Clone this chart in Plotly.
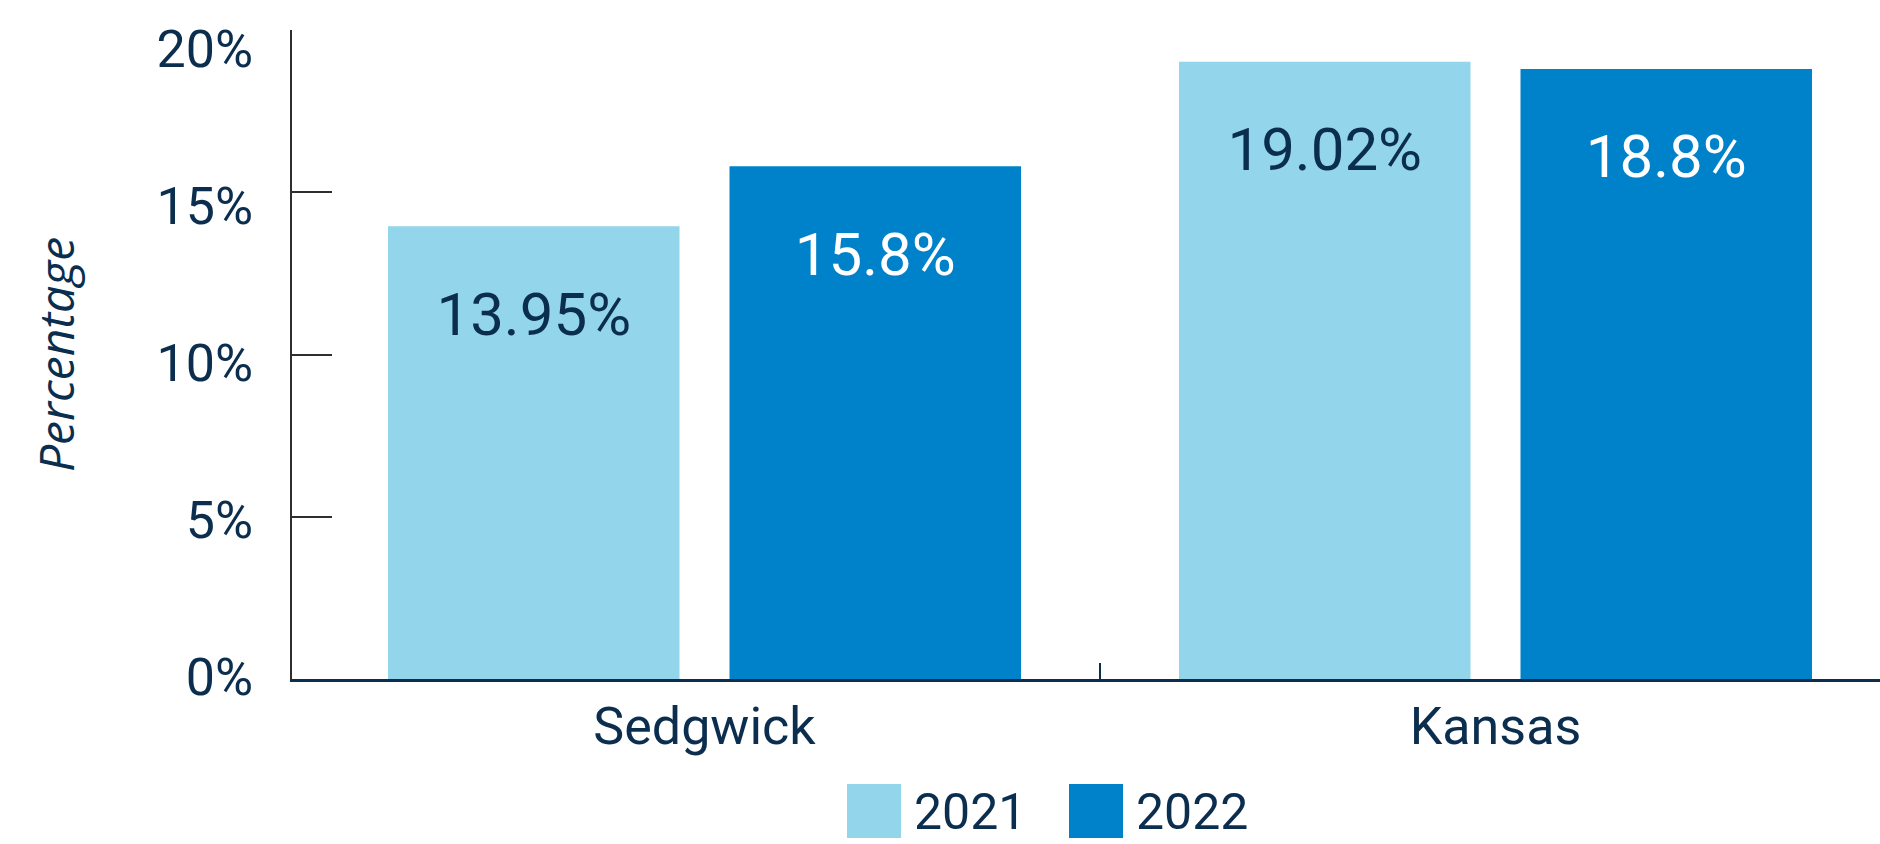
import plotly.graph_objects as go

# ---- data ----
categories = ["Sedgwick", "Kansas"]
years = ["2021", "2022"]
values_2021 = [13.95, 19.02]
values_2022 = [15.8, 18.8]
labels_2021 = ["13.95%", "19.02%"]
labels_2022 = ["15.8%", "18.8%"]
y_tickvals = [0, 5, 10, 15, 20]
y_ticktext = ["0%", "5%", "10%", "15%", "20%"]

# ---- style ----
LIGHT = "#93D5EB"
DARK = "#0082CA"
NAVY = "#0B2E4F"
GRAY = "#2E2E2E"
FONT = "Roboto, 'Noto Sans', sans-serif"

W, H = 1880, 844
ML, MR, MT, MB = 292, 0, 30, 165
PW = W - ML - MR
PH = H - MT - MB


def px(x):
    return (x - ML) / PW


def py(y):
    return (H - MB - y) / PH


fig = go.Figure()

series = [
    (years[0], values_2021, labels_2021, LIGHT, NAVY),
    (years[1], values_2022, labels_2022, DARK, "#FFFFFF"),
]

for name, vals, labs, color, tcolor in series:
    fig.add_trace(go.Bar(
        x=categories, y=vals, name=name,
        marker=dict(color=color, line=dict(width=0)),
        hoverinfo="x+y+name",
    ))

for name, vals, labs, color, tcolor in series:
    fig.add_trace(go.Scatter(
        x=categories, y=vals, mode="markers+text",
        text=labs,
        textposition="bottom center",
        textfont=dict(family=FONT, size=60, color=tcolor),
        marker=dict(size=100, color="rgba(0,0,0,0)"),
        showlegend=False, hoverinfo="skip",
    ))

# invisible trace to carry the label axis
fig.add_trace(go.Scatter(
    x=categories, y=values_2021, yaxis="y2", mode="markers",
    marker=dict(size=1, color="rgba(0,0,0,0)"),
    showlegend=False, hoverinfo="skip",
))

shapes = [
    dict(type="line", xref="x", yref="paper", x0=0.5, x1=0.5, y0=0, y1=16 / PH,
         line=dict(color=NAVY, width=2)),
    dict(type="rect", xref="paper", yref="paper", x0=px(847), x1=px(901),
         y0=py(838), y1=py(784), fillcolor=LIGHT, line=dict(width=0)),
    dict(type="rect", xref="paper", yref="paper", x0=px(1069), x1=px(1123),
         y0=py(838), y1=py(784), fillcolor=DARK, line=dict(width=0)),
]

annotations = [
    dict(xref="paper", yref="paper", x=px(912), y=py(812), text=years[0],
         showarrow=False, xanchor="left", yanchor="middle",
         font=dict(family=FONT, size=50, color=NAVY)),
    dict(xref="paper", yref="paper", x=px(1134), y=py(812), text=years[1],
         showarrow=False, xanchor="left", yanchor="middle",
         font=dict(family=FONT, size=50, color=NAVY)),
]

fig.update_layout(
    width=W, height=H,
    margin=dict(l=ML, r=MR, t=MT, b=MB, pad=0),
    paper_bgcolor="white", plot_bgcolor="white",
    barmode="group", bargap=0.1365, bargroupgap=0.1464,
    scattermode="group",
    showlegend=False,
    shapes=shapes, annotations=annotations,
    xaxis=dict(
        range=[-0.5215, 1.4861], showline=True, linecolor=NAVY, linewidth=3,
        ticks="", showgrid=False, zeroline=False,
        tickfont=dict(family=FONT, size=52, color=NAVY),
    ),
    yaxis=dict(
        range=[0, 20], tickvals=y_tickvals, showticklabels=False,
        ticks="inside", ticklen=40, tickwidth=2, tickcolor=GRAY,
        showline=True, linecolor=GRAY, linewidth=2,
        showgrid=False, zeroline=False,
    ),
    yaxis2=dict(
        overlaying="y", side="left", anchor="x",
        range=[-0.0637, 20.61], tickvals=y_tickvals, ticktext=y_ticktext,
        showline=False, showgrid=False, zeroline=False, ticks="",
        ticklabelstandoff=38,
        tickfont=dict(family=FONT, size=52, color=NAVY),
        title=dict(text="Percentage", standoff=66,
                   font=dict(family="'Open Sans', sans-serif", size=48, color=NAVY, style="italic")),
    ),
)

fig.write_html(
    "out.html",
    config={"displayModeBar": False},
    post_script="document.body.style.margin='0';document.body.style.overflow='hidden';",
)
